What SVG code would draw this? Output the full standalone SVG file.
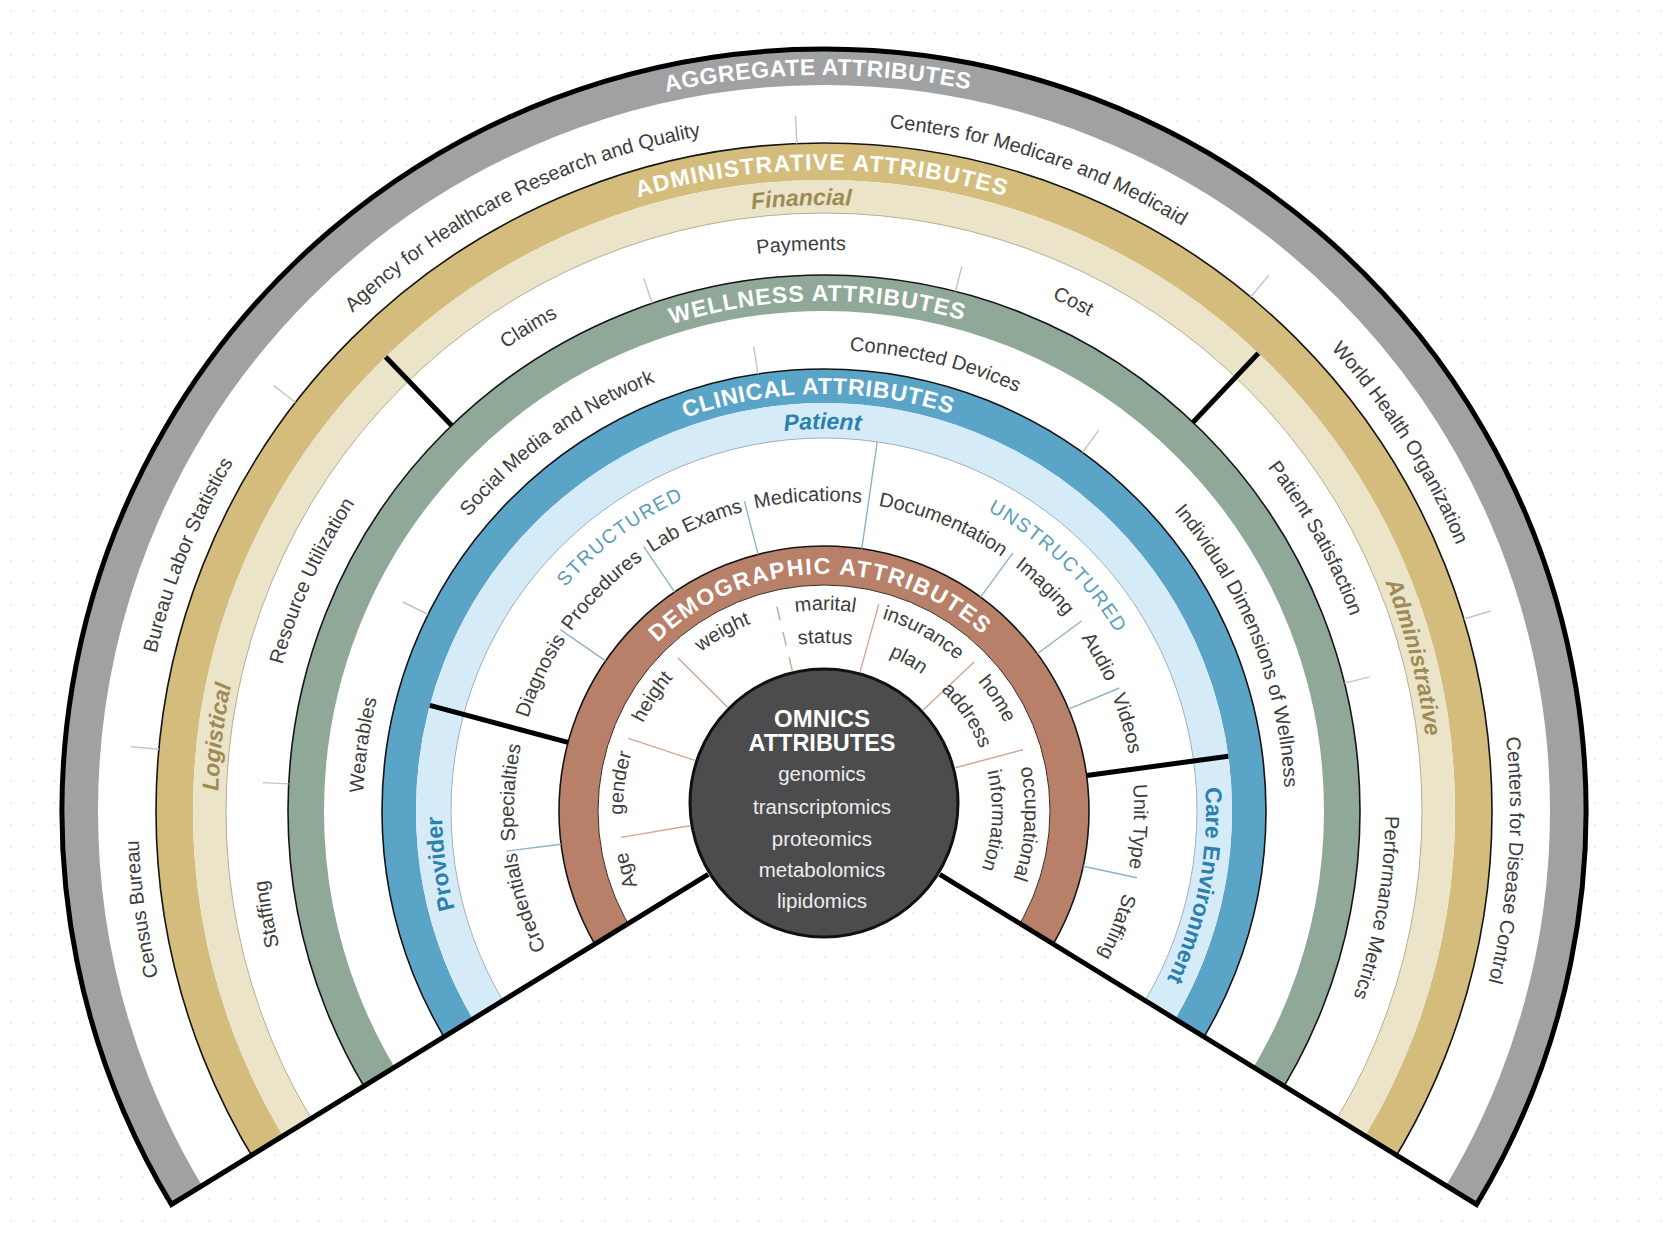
<svg xmlns="http://www.w3.org/2000/svg" width="1663" height="1241" viewBox="0 0 1663 1241">
  <style>
    .lbl { font-family: "Liberation Sans", Arial, sans-serif; font-size: 20px; fill: #3d3d3d; text-anchor: middle; }
    .ttl { font-family: "Liberation Sans", Arial, sans-serif; font-weight: 700; font-size: 23px; fill: #ffffff; text-anchor: middle; }
    .sub { font-family: "Liberation Sans", Arial, sans-serif; font-weight: 700; font-size: 23px; text-anchor: middle; }
    .gold { fill: #9d8b55; font-style: italic; }
    .blue { fill: #2a80ae; }
    .st { font-family: "Liberation Sans", Arial, sans-serif; font-size: 19.5px; fill: #5b9db9; letter-spacing: 1.5px; text-anchor: middle; }
    .om { font-family: "Liberation Sans", Arial, sans-serif; font-size: 20.5px; fill: #ededed; text-anchor: middle; }
    .omh { font-family: "Liberation Sans", Arial, sans-serif; font-weight: 700; fill: #ffffff; text-anchor: middle; }
    .band { fill: none; }
    .rim { fill: none; stroke: #151515; stroke-width: 1.6; }
    .hair { fill: none; stroke-width: 1; }
    .tick { stroke: #c3c6c0; stroke-width: 1.4; }
    .tick-c { stroke: #8db3c5; stroke-width: 1.4; }
    .tick-d { stroke: #d1a696; stroke-width: 1.4; }
    .div { stroke: #000000; stroke-width: 5; }
  </style>
  <defs>
    <pattern id="dots" width="22" height="22" patternUnits="userSpaceOnUse">
      <circle cx="11" cy="11" r="1.1" fill="#e6e6e6"/>
    </pattern>
    <!-- everything above the two lower edges of the fan -->
    <clipPath id="fanClip">
      <path d="M824 803 L142.6 1222.2 L-50 1222.2 L-50 -50 L1713 -50 L1713 1222.2 L1505.4 1222.2 Z"/>
    </clipPath>
    <!-- circular baselines around the ring centre, each starting at the bottom and running clockwise -->
    <path id="p736" d="M824 1547 A736 736 0 1 1 824 75 A736 736 0 1 1 824 1547"/>
    <path id="p686" d="M824 1497 A686 686 0 1 1 824 125 A686 686 0 1 1 824 1497"/>
    <path id="p641" d="M824 1452 A641 641 0 1 1 824 170 A641 641 0 1 1 824 1452"/>
    <path id="p606" d="M824 1417 A606 606 0 1 1 824 205 A606 606 0 1 1 824 1417"/>
    <path id="p561" d="M824 1372 A561 561 0 1 1 824 250 A561 561 0 1 1 824 1372"/>
    <path id="p510" d="M824 1321 A510 510 0 1 1 824 301 A510 510 0 1 1 824 1321"/>
    <path id="p461" d="M824 1272 A461 461 0 1 1 824 350 A461 461 0 1 1 824 1272"/>
    <path id="p417" d="M824 1228 A417 417 0 1 1 824 394 A417 417 0 1 1 824 1228"/>
    <path id="p382" d="M824 1193 A382 382 0 1 1 824 429 A382 382 0 1 1 824 1193"/>
    <path id="p342" d="M824 1153 A342 342 0 1 1 824 469 A342 342 0 1 1 824 1153"/>
    <path id="p310" d="M824 1121 A310 310 0 1 1 824 501 A310 310 0 1 1 824 1121"/>
    <path id="p237" d="M824 1048 A237 237 0 1 1 824 574 A237 237 0 1 1 824 1048"/>
    <path id="p201" d="M824 1012 A201 201 0 1 1 824 610 A201 201 0 1 1 824 1012"/>
    <path id="p168" d="M824 979 A168 168 0 1 1 824 643 A168 168 0 1 1 824 979"/>
  </defs>

  <!-- page -->
  <rect width="1663" height="1241" fill="#ffffff"/>
  <rect width="1663" height="1241" fill="url(#dots)"/>

  <!-- fan body -->
  <circle cx="824" cy="811" r="762" fill="#ffffff" clip-path="url(#fanClip)"/>

  <g id="rings" clip-path="url(#fanClip)">
    <circle class="band" cx="824" cy="811" r="744" stroke="#9fa1a3" stroke-width="36"/>
    <circle class="band" cx="824" cy="811" r="649.5" stroke="#d4bd7c" stroke-width="37"/>
    <circle class="rim" cx="824" cy="811" r="668"/>
    <circle class="band" cx="824" cy="811" r="614.5" stroke="#ece4c9" stroke-width="33"/>
    <circle class="hair" cx="824" cy="811" r="598" stroke="#b5ad92"/>
    <circle class="band" cx="824" cy="811" r="518" stroke="#8fa898" stroke-width="36"/>
    <circle class="rim" cx="824" cy="811" r="536"/>
    <circle class="band" cx="824" cy="811" r="425" stroke="#5aa5c7" stroke-width="34"/>
    <circle class="rim" cx="824" cy="811" r="442"/>
    <circle class="band" cx="824" cy="811" r="390.5" stroke="#d5ebf8" stroke-width="35"/>
    <circle class="hair" cx="824" cy="811" r="373" stroke="#9fb0ba"/>
    <circle class="band" cx="824" cy="811" r="245.5" stroke="#b88068" stroke-width="39"/>
    <circle class="rim" cx="824" cy="811" r="265" stroke-width="1.8"/>
    <circle class="hair" cx="824" cy="811" r="226" stroke="#3a2a24"/>
  </g>

  <g id="connectors">
    <!-- aggregate separators -->
    <line class="tick" x1="158.9" y1="749.3" x2="131.0" y2="746.7"/>
    <line class="tick" x1="295.5" y1="402.5" x2="273.3" y2="385.4"/>
    <line class="tick" x1="796.7" y1="143.6" x2="795.6" y2="115.6"/>
    <line class="tick" x1="1250.7" y1="297.0" x2="1268.6" y2="275.5"/>
    <line class="tick" x1="1463.8" y1="619.0" x2="1490.6" y2="611.0"/>
    <!-- administrative separators -->
    <line class="tick" x1="288.7" y1="783.9" x2="262.7" y2="782.6"/>
    <line class="tick" x1="652.2" y1="303.3" x2="643.8" y2="278.7"/>
    <line class="tick" x1="955.5" y1="291.4" x2="961.9" y2="266.2"/>
    <line class="tick" x1="1344.5" y1="683.1" x2="1369.8" y2="676.9"/>
    <!-- wellness separators -->
    <line class="tick" x1="428.1" y1="614.5" x2="403.0" y2="602.0"/>
    <line class="tick" x1="757.9" y1="374.0" x2="753.7" y2="346.3"/>
    <line class="tick" x1="1082.5" y1="452.5" x2="1098.9" y2="429.8"/>
    <!-- clinical separators -->
    <line class="tick-c" x1="561.1" y1="844.2" x2="506.5" y2="851.1"/>
    <line class="tick-c" x1="605.6" y1="660.9" x2="560.3" y2="629.7"/>
    <line class="tick-c" x1="674.7" y1="592.1" x2="643.7" y2="546.6"/>
    <line class="tick-c" x1="758.1" y1="554.3" x2="744.4" y2="501.1"/>
    <line class="tick-c" x1="861.8" y1="548.7" x2="877.2" y2="441.8"/>
    <line class="tick-c" x1="980.5" y1="597.2" x2="1013.0" y2="552.8"/>
    <line class="tick-c" x1="1037.3" y1="653.7" x2="1081.5" y2="621.0"/>
    <line class="tick-c" x1="1068.6" y1="709.2" x2="1119.4" y2="688.0"/>
    <line class="tick-c" x1="1083.2" y1="866.3" x2="1137.0" y2="877.8"/>
    <!-- demographic separators -->
    <line class="tick-d" x1="689.9" y1="825.7" x2="620.9" y2="837.4"/>
    <line class="tick-d" x1="694.9" y1="760.3" x2="628.4" y2="738.3"/>
    <line class="tick-d" x1="727.5" y1="707.2" x2="677.8" y2="657.8"/>
    <line class="tick-d" x1="792.3" y1="670.8" x2="775.9" y2="602.7" stroke-dasharray="14 12"/>
    <line class="tick-d" x1="860.1" y1="671.9" x2="878.7" y2="604.4"/>
    <line class="tick-d" x1="923.1" y1="709.9" x2="974.2" y2="662.0"/>
    <line class="tick-d" x1="955.4" y1="767.8" x2="1023.0" y2="749.7"/>
    <!-- sector dividers -->
    <line class="div" x1="385.7" y1="357.1" x2="451.7" y2="425.4"/>
    <line class="div" x1="1258.3" y1="353.3" x2="1193.0" y2="422.2"/>
    <line class="div" x1="429.9" y1="705.4" x2="568.0" y2="742.4"/>
    <line class="div" x1="1228.3" y1="756.3" x2="1086.6" y2="775.5"/>
  </g>

  <!-- outer frame -->
  <path id="frame" d="M708.2 874.3 L171.4 1204.5 A762 762 0 1 1 1476.6 1204.5 L939.8 874.3" fill="none" stroke="#000000" stroke-width="5" stroke-linejoin="miter"/>

  <g id="aggregate">
    <text class="ttl" letter-spacing="0.5"><textPath href="#p736" startOffset="2305.8">AGGREGATE ATTRIBUTES</textPath></text>
    <text class="lbl"><textPath href="#p686" startOffset="979.4">Census Bureau</textPath></text>
    <text class="lbl"><textPath href="#p686" startOffset="1339.8">Bureau Labor Statistics</textPath></text>
    <text class="lbl"><textPath href="#p686" startOffset="1833.1">Agency for Healthcare Research and Quality</textPath></text>
    <text class="lbl"><textPath href="#p686" startOffset="2376.0">Centers for Medicare and Medicaid</textPath></text>
    <text class="lbl"><textPath href="#p686" startOffset="2842.4">World Health Organization</textPath></text>
    <text class="lbl"><textPath href="#p686" startOffset="3281.8">Centers for Disease Control</textPath></text>
  </g>

  <g id="administrative">
    <text class="ttl" letter-spacing="1.2"><textPath href="#p641" startOffset="2011.5">ADMINISTRATIVE ATTRIBUTES</textPath></text>
    <text class="sub gold"><textPath href="#p606" startOffset="1881.1">Financial</textPath></text>
    <text class="sub gold"><textPath href="#p606" startOffset="1025.4">Logistical</textPath></text>
    <text class="sub gold"><textPath href="#p606" startOffset="2700.8">Administrative</textPath></text>
    <text class="lbl"><textPath href="#p561" startOffset="1739.9">Payments</textPath></text>
    <text class="lbl"><textPath href="#p561" startOffset="1455.0">Claims</textPath></text>
    <text class="lbl"><textPath href="#p561" startOffset="2018.0">Cost</textPath></text>
    <text class="lbl"><textPath href="#p561" startOffset="1118.2">Resource Utilization</textPath></text>
    <text class="lbl"><textPath href="#p561" startOffset="778.4">Staffing</textPath></text>
    <text class="lbl"><textPath href="#p561" startOffset="2359.7">Patient Satisfaction</textPath></text>
    <text class="lbl"><textPath href="#p561" startOffset="2741.1">Performance Metrics</textPath></text>
  </g>

  <g id="wellness">
    <text class="ttl" letter-spacing="1"><textPath href="#p510" startOffset="1595.5">WELLNESS ATTRIBUTES</textPath></text>
    <text class="lbl"><textPath href="#p461" startOffset="1159.0">Social Media and Network</textPath></text>
    <text class="lbl"><textPath href="#p461" startOffset="1560.5">Connected Devices</textPath></text>
    <text class="lbl"><textPath href="#p461" startOffset="789.7">Wearables</textPath></text>
    <text class="lbl"><textPath href="#p461" startOffset="1997.0">Individual Dimensions of Wellness</textPath></text>
  </g>

  <g id="clinical">
    <text class="ttl" letter-spacing="0.8"><textPath href="#p417" startOffset="1303.9">CLINICAL ATTRIBUTES</textPath></text>
    <text class="sub blue" font-style="italic"><textPath href="#p382" startOffset="1198.1">Patient</textPath></text>
    <text class="sub blue"><textPath href="#p382" startOffset="547.4">Provider</textPath></text>
    <text class="sub blue"><textPath href="#p382" startOffset="1874.8">Care Environment</textPath></text>
    <text class="st"><textPath href="#p342" startOffset="855.4">STRUCTURED</textPath></text>
    <text class="st"><textPath href="#p342" startOffset="1335.0">UNSTRUCTURED</textPath></text>
    <text class="lbl"><textPath href="#p310" startOffset="624.9">Diagnosis</textPath></text>
    <text class="lbl"><textPath href="#p310" startOffset="729.3">Procedures</textPath></text>
    <text class="lbl"><textPath href="#p310" startOffset="841.9">Lab Exams</textPath></text>
    <text class="lbl"><textPath href="#p310" startOffset="957.9">Medications</textPath></text>
    <text class="lbl"><textPath href="#p310" startOffset="1095.6">Documentation</textPath></text>
    <text class="lbl"><textPath href="#p310" startOffset="1214.7">Imaging</textPath></text>
    <text class="lbl"><textPath href="#p310" startOffset="1302.3">Audio</textPath></text>
    <text class="lbl"><textPath href="#p310" startOffset="1373.2">Videos</textPath></text>
    <text class="lbl"><textPath href="#p310" startOffset="505.1">Specialties</textPath></text>
    <text class="lbl"><textPath href="#p310" startOffset="394.7">Credentials</textPath></text>
    <text class="lbl"><textPath href="#p310" startOffset="1476.0">Unit Type</textPath></text>
    <text class="lbl"><textPath href="#p310" startOffset="1577.2">Staffing</textPath></text>
  </g>

  <g id="demographic">
    <text class="ttl" letter-spacing="1.6" fill="#fbf0e6"><textPath href="#p237" startOffset="739.4">DEMOGRAPHIC ATTRIBUTES</textPath></text>
    <text class="lbl"><textPath href="#p201" startOffset="256.8">Age</textPath></text>
    <text class="lbl"><textPath href="#p201" startOffset="343.1">gender</textPath></text>
    <text class="lbl"><textPath href="#p201" startOffset="433.6">height</textPath></text>
    <text class="lbl"><textPath href="#p201" startOffset="527.6">weight</textPath></text>
    <text class="lbl"><textPath href="#p201" startOffset="632.5">marital</textPath></text>
    <text class="lbl"><textPath href="#p168" startOffset="528.7">status</textPath></text>
    <text class="lbl"><textPath href="#p201" startOffset="733.5">insurance</textPath></text>
    <text class="lbl"><textPath href="#p168" startOffset="613.1">plan</textPath></text>
    <text class="lbl"><textPath href="#p201" startOffset="831.1">home</textPath></text>
    <text class="lbl"><textPath href="#p168" startOffset="692.3">address</textPath></text>
    <text class="lbl"><textPath href="#p201" startOffset="959.5">occupational</textPath></text>
    <text class="lbl"><textPath href="#p168" startOffset="800.8">information</textPath></text>
  </g>

  <g id="omnics">
    <circle cx="824" cy="803" r="134" fill="#4c4c4e" stroke="#111111" stroke-width="3"/>
    <text class="omh" x="822" y="727" font-size="24">OMNICS</text>
    <text class="omh" x="822" y="751" font-size="23.5">ATTRIBUTES</text>
    <text class="om" x="822" y="781">genomics</text>
    <text class="om" x="822" y="814">transcriptomics</text>
    <text class="om" x="822" y="846">proteomics</text>
    <text class="om" x="822" y="877">metabolomics</text>
    <text class="om" x="822" y="908">lipidomics</text>
  </g>
</svg>
